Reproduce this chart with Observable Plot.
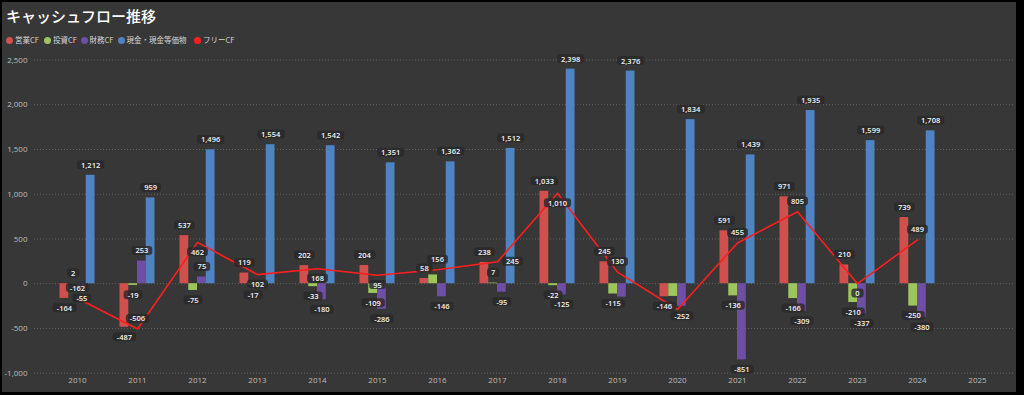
<!DOCTYPE html>
<html>
<head>
<meta charset="utf-8">
<script src="https://cdn.jsdelivr.net/npm/d3@7"></script>
<script src="https://cdn.jsdelivr.net/npm/@observablehq/plot@0.6"></script>
<style>
  html, body { margin: 0; padding: 0; background: #000; }
  #wrap { position: absolute; left: 2px; top: 2px; width: 1014px; height: 390px; background: #373737; overflow: hidden; }
  #title { position: absolute; left: 4px; top: 5px; font: 500 15px/17px "Noto Sans CJK JP", sans-serif; color: #fff; white-space: nowrap; }
  #legend { position: absolute; left: 0; top: 31px; height: 14px; width: 400px; font: 7.5px/14px "Noto Sans CJK JP", sans-serif; color: #d6d6d6; }
  .li { position: absolute; top: 0; white-space: nowrap; }
  .dot { display: inline-block; width: 7px; height: 7px; border-radius: 50%; vertical-align: -1px; margin-right: 2px; }
  #chart { position: absolute; left: 0; top: 46px; }
</style>
</head>
<body>
<div id="wrap">
  <div id="title">キャッシュフロー推移</div>
  <div id="legend"></div>
  <div id="chart"></div>
</div>
<script>
// ---- data ----
const years = [2010, 2011, 2012, 2013, 2014, 2015, 2016, 2017, 2018, 2019, 2020, 2021, 2022, 2023, 2024, 2025];
const seriesNames = ["営業CF", "投資CF", "財務CF", "現金・現金等価物", "フリーCF"];
const opCF   = [-164, -487, 537, 119, 202, 204, 58, 238, 1033, 245, -146, 591, 971, 210, 739, null];
const invCF  = [2, -19, -75, -17, -33, -109, 98, 7, -22, -115, -142, -136, -166, -210, -250, null];
const finCF  = [-55, 253, 75, -20, -180, -286, -146, -95, -125, -150, -252, -851, -309, -337, -380, null];
const cash   = [1212, 959, 1496, 1554, 1542, 1351, 1362, 1512, 2398, 2376, 1834, 1439, 1935, 1599, 1708, null];
const freeCF = [-162, -506, 462, 102, 168, 95, 156, 245, 1010, 130, -288, 455, 805, 0, 489, null];
const yTicks = [-1000, -500, 0, 500, 1000, 1500, 2000, 2500];

// label layout hints (which labels the original hides / where free-CF labels sit)
const hiddenLabels = ["2013|財務CF", "2016|投資CF", "2019|財務CF", "2020|投資CF", "2020|フリーCF"];
const freeBelow = [2012, 2013, 2014, 2015, 2018, 2023];
const freeRight = [2017];

// ---- styles ----
const colors = ["#cf504c", "#9cc65c", "#6f4fa6", "#4e84c4", "#ff1e1e"];
const fmt = v => v.toLocaleString("en-US");

// ---- legend ----
const legendX = [4, 42, 78.5, 115.5, 192];
const legend = document.getElementById("legend");
seriesNames.forEach((s, i) => {
  const el = document.createElement("span");
  el.className = "li";
  el.style.left = legendX[i] + "px";
  el.innerHTML = `<span class="dot" style="background:${colors[i]}"></span>${s}`;
  legend.appendChild(el);
});

// ---- tidy rows ----
const barSeries = [opCF, invCF, finCF, cash];
const bars = [];
barSeries.forEach((arr, i) => arr.forEach((v, j) => {
  if (v != null) bars.push({year: years[j], series: seriesNames[i], i, value: v});
}));
const free = freeCF.map((v, j) => ({year: years[j], series: "フリーCF", value: v})).filter(d => d.value != null);

const groupW = 35 / 60;            // fraction of a year occupied by a group
const bw = groupW / barSeries.length;
const shown = d => !hiddenLabels.includes(d.year + "|" + d.series);
const barCx = d => d.year + (d.i - 1.5) * bw;

const labelStyle = {fill: "#f2f2f2", fontSize: 7.5, fontWeight: 600, fontFamily: "'Open Sans', sans-serif", className: "vlabel"};

const chart = Plot.plot({
  width: 1014,
  height: 344,
  marginLeft: 32,
  marginRight: 1,
  marginTop: 11.5,
  marginBottom: 19.3,
  style: {background: "transparent", color: "#bdbdbd", fontFamily: "'Open Sans', sans-serif", fontSize: "8px", overflow: "visible"},
  x: {type: "linear", domain: [2009.2833, 2025.6333], axis: null},
  y: {domain: [-1000, 2500], axis: null},
  color: {domain: seriesNames, range: colors},
  marks: [
    Plot.ruleY(yTicks, {stroke: "#626262", strokeDasharray: "1,2", strokeWidth: 1}),
    Plot.axisY({ticks: yTicks, tickSize: 0, tickPadding: 7, tickFormat: fmt, fill: "#bdbdbd", fontSize: 8, label: null}),
    Plot.axisX({ticks: years, tickSize: 0, tickPadding: 4, tickFormat: d => String(d), fill: "#bdbdbd", fontSize: 8, label: null}),
    Plot.rect(bars, {
      x1: d => d.year + (d.i - 2) * bw,
      x2: d => d.year + (d.i - 1) * bw,
      y1: 0, y2: "value", fill: "series"
    }),
    Plot.line(free, {x: "year", y: "value", stroke: "series", strokeWidth: 1.6}),
    Plot.text(bars.filter(d => shown(d) && d.value >= 0), {x: barCx, y: "value", text: d => fmt(d.value), dy: -10, ...labelStyle}),
    Plot.text(bars.filter(d => shown(d) && d.value < 0), {x: barCx, y: "value", text: d => fmt(d.value), dy: 10, ...labelStyle}),
    Plot.text(free.filter(d => shown(d) && !freeBelow.includes(d.year) && !freeRight.includes(d.year)), {x: "year", y: "value", text: d => fmt(d.value), dy: -10, ...labelStyle}),
    Plot.text(free.filter(d => shown(d) && freeBelow.includes(d.year)), {x: "year", y: "value", text: d => fmt(d.value), dy: 10, ...labelStyle}),
    Plot.text(free.filter(d => shown(d) && freeRight.includes(d.year)), {x: "year", y: "value", text: d => fmt(d.value), dx: 15, ...labelStyle})
  ]
});
document.getElementById("chart").appendChild(chart);

// rounded dark boxes behind value labels
const labelTexts = [];
chart.querySelectorAll("g").forEach(g => {
  const isLabel = (g.getAttribute("class") || "").includes("vlabel") || g.getAttribute("aria-label") === "text";
  if (isLabel) g.querySelectorAll(":scope > text").forEach(t => labelTexts.push(t));
});
labelTexts.forEach(t => {
  const bb = t.getBBox();
  const r = document.createElementNS("http://www.w3.org/2000/svg", "rect");
  r.setAttribute("x", bb.x - 4);
  r.setAttribute("y", bb.y + 0.5);
  r.setAttribute("width", bb.width + 8);
  r.setAttribute("height", bb.height - 1);
  r.setAttribute("rx", 3);
  r.setAttribute("fill", "#282828");
  r.setAttribute("fill-opacity", "0.8");
  r.setAttribute("stroke", "none");
  const tr = t.getAttribute("transform");
  if (tr) r.setAttribute("transform", tr);
  t.parentNode.insertBefore(r, t);
});
</script>
</body>
</html>
